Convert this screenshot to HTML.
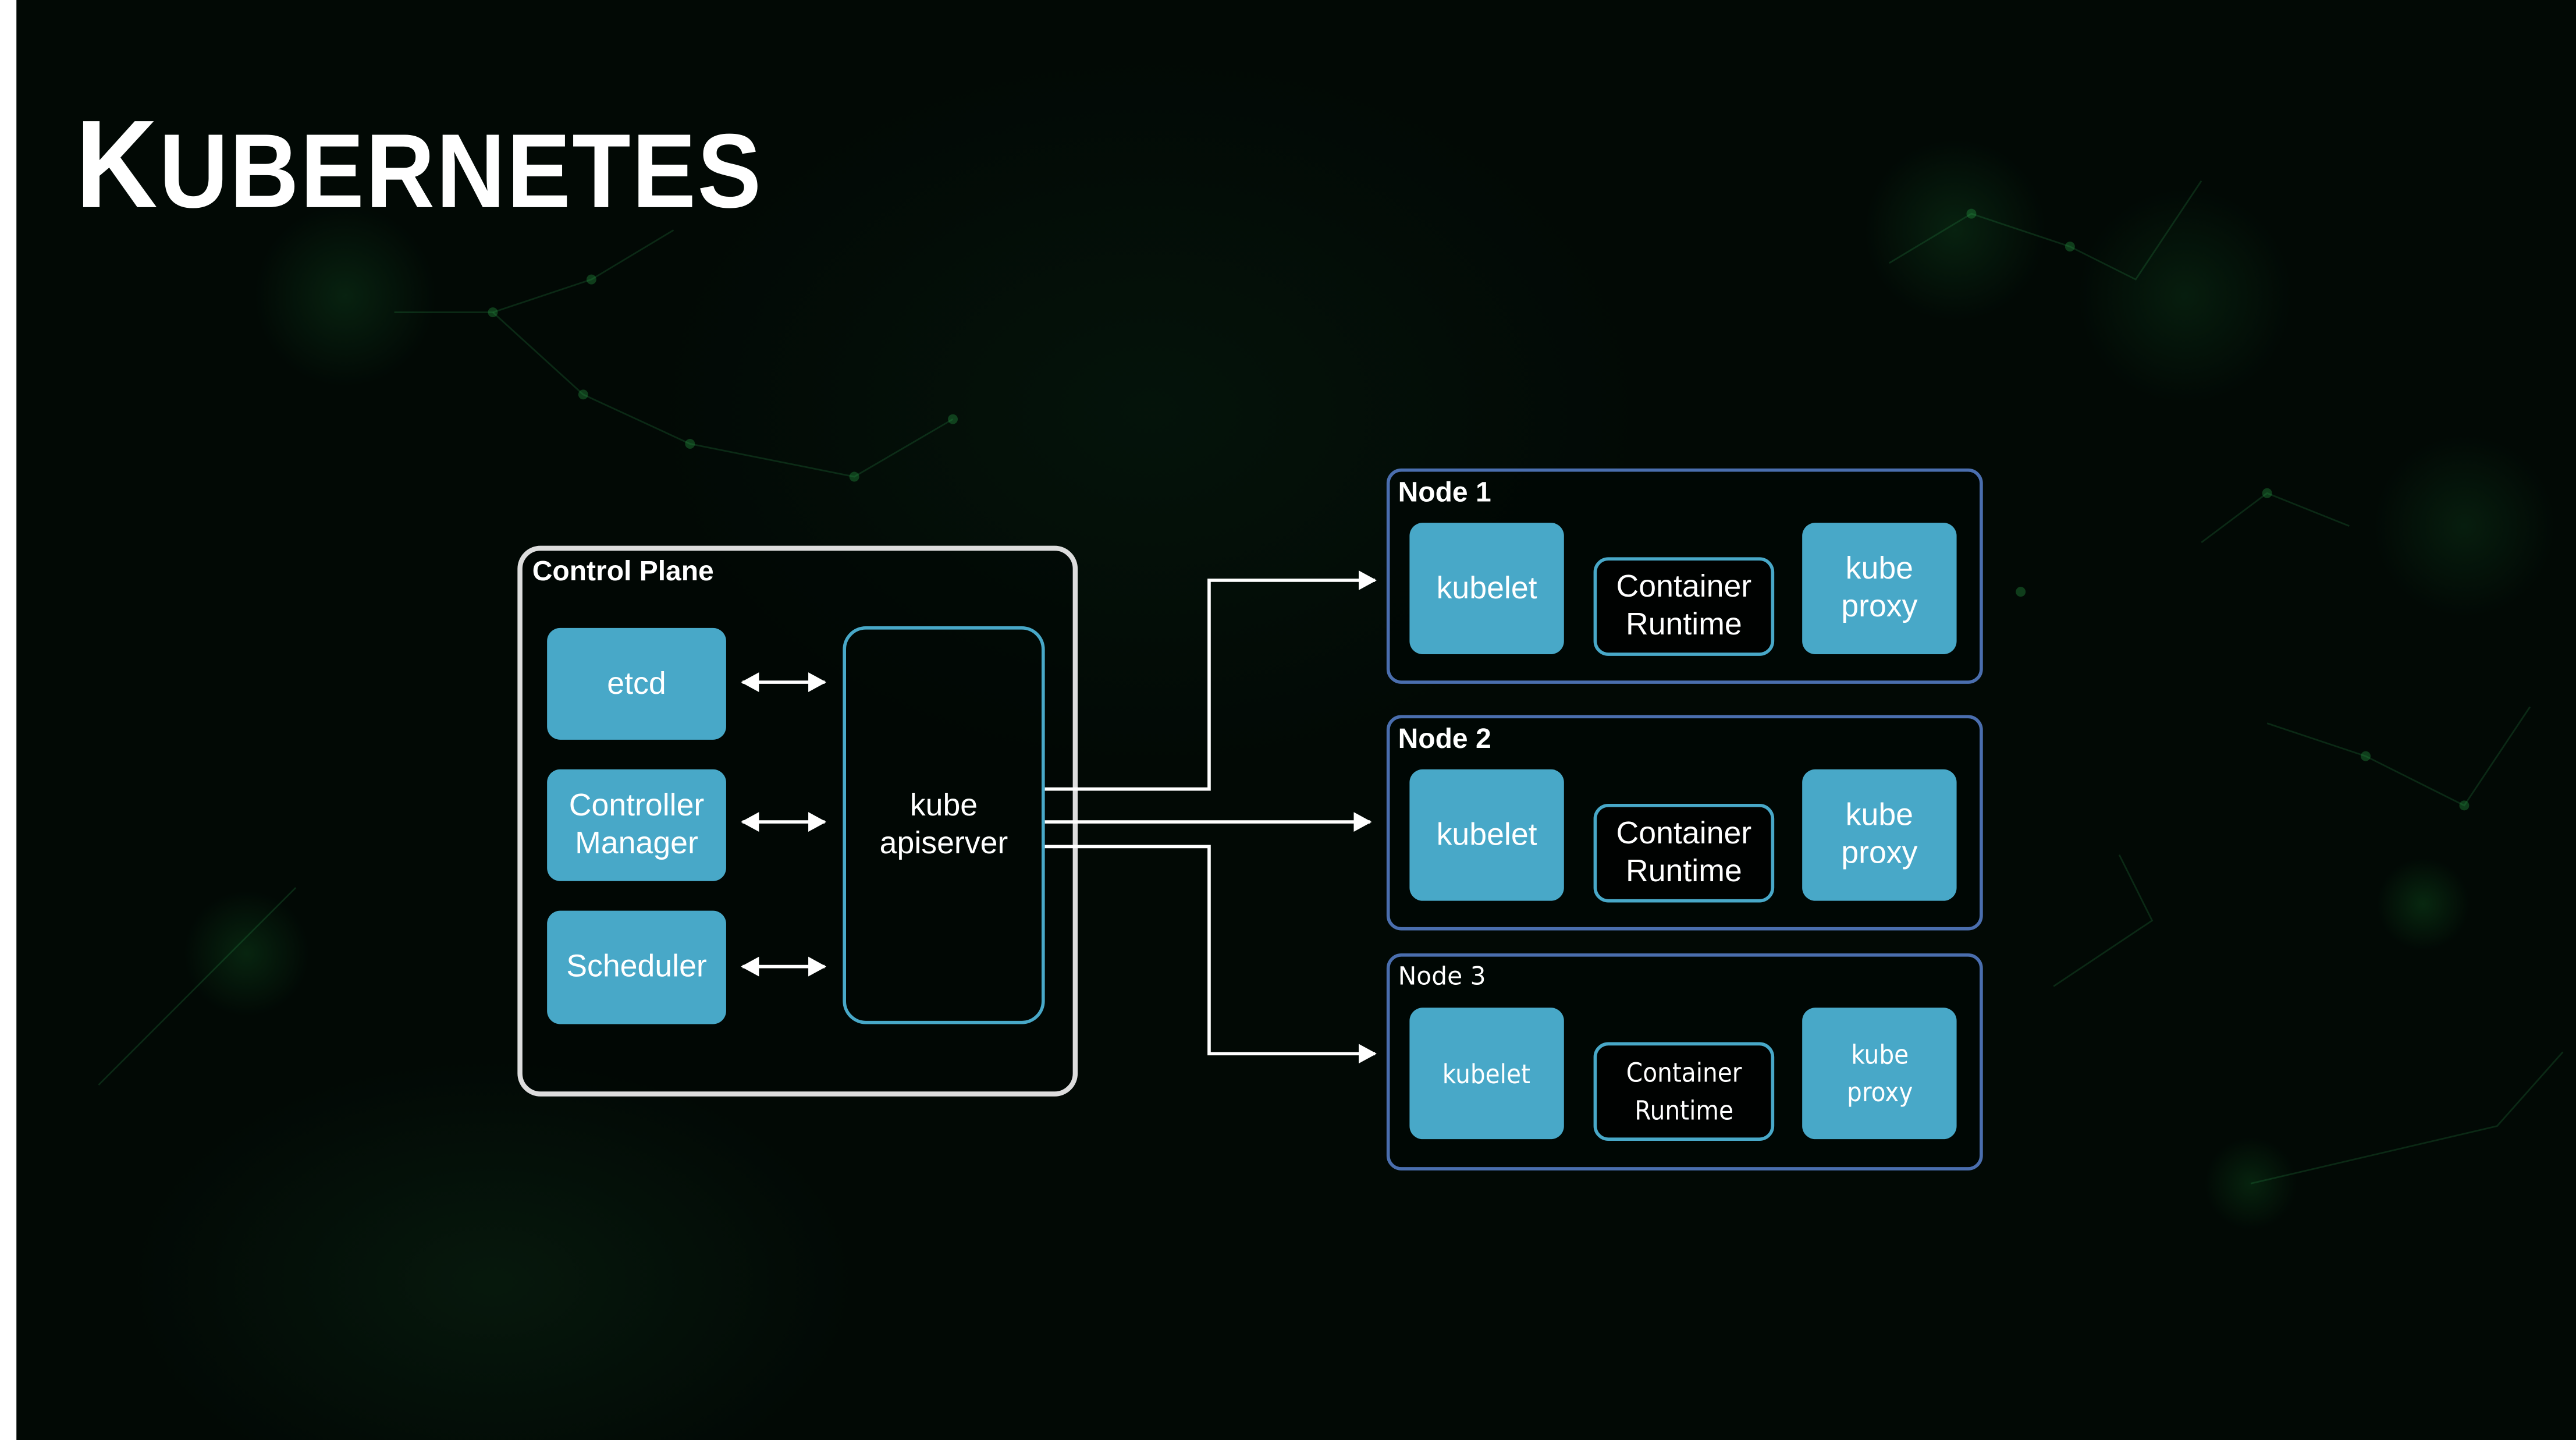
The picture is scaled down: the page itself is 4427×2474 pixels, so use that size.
<!DOCTYPE html>
<html><head><meta charset="utf-8"><style>
html,body{margin:0;padding:0;background:#000;}
body{width:4427px;height:2474px;overflow:hidden;position:relative;}
#s{position:absolute;left:0;top:0;width:1568px;height:876px;transform:scale(2.8233,2.8242);transform-origin:0 0;
background:
radial-gradient(circle at 210px 180px,rgba(20,90,40,.3),transparent 55px),
radial-gradient(circle at 1190px 140px,rgba(20,90,40,.3),transparent 55px),
radial-gradient(circle at 1330px 180px,rgba(20,90,40,.25),transparent 65px),
radial-gradient(circle at 1500px 320px,rgba(20,90,40,.25),transparent 55px),
radial-gradient(circle at 150px 580px,rgba(20,100,40,.3),transparent 38px),
radial-gradient(circle at 1475px 550px,rgba(20,110,40,.3),transparent 28px),
radial-gradient(circle at 1370px 720px,rgba(20,110,40,.25),transparent 28px),
radial-gradient(ellipse at 300px 780px,rgba(20,70,35,.25),transparent 220px),
radial-gradient(ellipse at 700px 250px,rgba(15,60,30,.2),transparent 300px),
#020905;font-family:"Liberation Sans",sans-serif;color:#fff;}
.strip{position:absolute;left:0;top:0;width:10px;height:876px;background:#fff;}
.b{position:absolute;box-sizing:border-box;}
.f{background:#48a8c8;border-radius:8px;display:flex;align-items:center;justify-content:center;text-align:center;font-size:19px;line-height:23px;}
.o{border:2.5px solid #48a8c8;border-radius:9px;display:flex;align-items:center;justify-content:center;text-align:center;font-size:19px;line-height:23px;background:rgba(0,0,0,.6);}
.n{border:2px solid #4a6eae;border-radius:9px;background:rgba(0,5,3,.55);}
.lbl{position:absolute;font-weight:bold;font-size:17px;}
.d{font-family:"DejaVu Sans",sans-serif;font-size:16px;line-height:23px;transform:scaleX(.9);}
</style></head><body><div id="s">
<div class="strip"></div>
<svg class="b" style="left:0;top:0" width="1568" height="876">
<g stroke="rgba(40,140,70,.25)" stroke-width="1" fill="none">
<polyline points="240,190 300,190 360,170 410,140"/><polyline points="300,190 355,240 420,270 520,290 580,255"/>
<polyline points="1150,160 1200,130 1260,150 1300,170 1340,110"/><polyline points="1340,330 1380,300 1430,320"/>
<polyline points="1380,440 1440,460 1500,490 1540,430"/><polyline points="1290,520 1310,560 1250,600"/>
<polyline points="1370,720 1520,685 1560,640"/><polyline points="60,660 140,580 180,540"/>
</g>
<g fill="rgba(40,160,70,.35)">
<circle cx="300" cy="190" r="3"/><circle cx="360" cy="170" r="3"/><circle cx="355" cy="240" r="3"/><circle cx="420" cy="270" r="3"/><circle cx="520" cy="290" r="3"/><circle cx="580" cy="255" r="3"/>
<circle cx="1200" cy="130" r="3"/><circle cx="1260" cy="150" r="3"/><circle cx="1380" cy="300" r="3"/><circle cx="1440" cy="460" r="3"/><circle cx="1500" cy="490" r="3"/><circle cx="1230" cy="360" r="3"/>
</g></svg>
<div style="position:absolute;left:46px;top:66px;font-weight:900;font-family:'Liberation Sans',sans-serif;white-space:nowrap;transform:scaleX(.91);transform-origin:0 0;letter-spacing:1px;"><span style="font-size:76px;line-height:70px;">K</span><span style="font-size:64px;line-height:70px;">UBERNETES</span></div>

<div class="b" style="left:315px;top:332px;width:341px;height:335px;border:3px solid #ddd;border-radius:14px;background:rgba(0,5,3,.5);"></div>
<div class="lbl" style="left:324px;top:338px;">Control Plane</div>
<div class="b f" style="left:333px;top:382px;width:109px;height:68px;">etcd</div>
<div class="b f" style="left:333px;top:468px;width:109px;height:68px;">Controller<br>Manager</div>
<div class="b f" style="left:333px;top:554px;width:109px;height:69px;">Scheduler</div>
<div class="b o" style="left:513px;top:381px;width:123px;height:242px;border-radius:14px;background:transparent;">kube<br>apiserver</div>

<svg class="b" style="left:0;top:0" width="1568" height="876">
<defs><marker id="a" markerWidth="11" markerHeight="12" refX="10" refY="6" orient="auto-start-reverse" markerUnits="userSpaceOnUse"><path d="M0,0 L11,6 L0,12 z" fill="#fff"/></marker></defs>
<g stroke="#fff" stroke-width="2" fill="none">
<line x1="452" y1="415" x2="502" y2="415" marker-start="url(#a)" marker-end="url(#a)"/>
<line x1="452" y1="500" x2="502" y2="500" marker-start="url(#a)" marker-end="url(#a)"/>
<line x1="452" y1="588" x2="502" y2="588" marker-start="url(#a)" marker-end="url(#a)"/>
<polyline points="636,480 736,480 736,353 837,353" marker-end="url(#a)"/>
<line x1="636" y1="500" x2="834" y2="500" marker-end="url(#a)"/>
<polyline points="636,515 736,515 736,641 837,641" marker-end="url(#a)"/>
</g></svg>

<div class="b n" style="left:844px;top:285px;width:363px;height:131px;"></div>
<div class="lbl" style="left:851px;top:290px;">Node 1</div>
<div class="b f" style="left:858px;top:318px;width:94px;height:80px;">kubelet</div>
<div class="b o" style="left:970px;top:339px;width:110px;height:60px;">Container<br>Runtime</div>
<div class="b f" style="left:1097px;top:318px;width:94px;height:80px;">kube<br>proxy</div>

<div class="b n" style="left:844px;top:435px;width:363px;height:131px;"></div>
<div class="lbl" style="left:851px;top:440px;">Node 2</div>
<div class="b f" style="left:858px;top:468px;width:94px;height:80px;">kubelet</div>
<div class="b o" style="left:970px;top:489px;width:110px;height:60px;">Container<br>Runtime</div>
<div class="b f" style="left:1097px;top:468px;width:94px;height:80px;">kube<br>proxy</div>

<div class="b n" style="left:844px;top:580px;width:363px;height:132px;"></div>
<div class="lbl" style="left:851px;top:585px;font-weight:normal;font-family:'DejaVu Sans',sans-serif;font-size:15px;">Node 3</div>
<div class="b f" style="left:858px;top:613px;width:94px;height:80px;"><span class="d">kubelet</span></div>
<div class="b o" style="left:970px;top:634px;width:110px;height:60px;"><span class="d">Container<br>Runtime</span></div>
<div class="b f" style="left:1097px;top:613px;width:94px;height:80px;"><span class="d">kube<br>proxy</span></div>
</div></body></html>
